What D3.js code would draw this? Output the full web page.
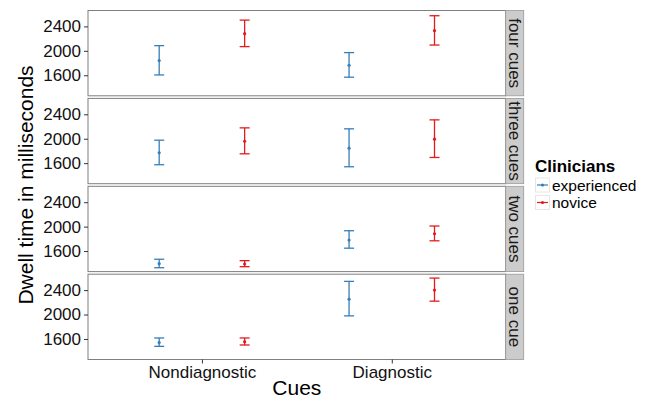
<!DOCTYPE html>
<html><head><meta charset="utf-8">
<script src="https://cdn.jsdelivr.net/npm/d3@7"></script>
<style>
html,body{margin:0;padding:0;background:#fff;}
svg{display:block;font-family:"Liberation Sans",Arial,Helvetica,sans-serif;}
</style></head>
<body><svg id="chart" width="659" height="401"></svg>
<script>
const facets = ["four cues", "three cues", "two cues", "one cue"];
const cues = ["Nondiagnostic", "Diagnostic"];
const clinicians = ["experienced", "novice"];
const yTicks = [1600, 2000, 2400];
// [facet][cue] values
const expMean  = [[1840, 1764], [1770, 1845], [1393, 1779], [1540, 2252]];
const expLower = [[1605, 1568], [1574, 1541], [1327, 1647], [1479, 1978]];
const expUpper = [[2085, 1971], [1976, 2162], [1466, 1933], [1616, 2543]];
const novMean  = [[2281, 2330], [1959, 1992], [1388, 1883], [1556, 2400]];
const novLower = [[2069, 2095], [1753, 1693], [1344, 1768], [1501, 2219]];
const novUpper = [[2503, 2575], [2178, 2309], [1443, 2010], [1616, 2597]];
const colors = ["#377EB8", "#E41A1C"];

const rows = [];
facets.forEach((f, fi) => cues.forEach((c, ci) => {
  rows.push({facet: f, cue: c, group: 0, mean: expMean[fi][ci], lo: expLower[fi][ci], hi: expUpper[fi][ci]});
  rows.push({facet: f, cue: c, group: 1, mean: novMean[fi][ci], lo: novLower[fi][ci], hi: novUpper[fi][ci]});
}));

const svg = d3.select("#chart");
const left = 88, right = 505.7, top0 = 10.5, pH = 85.3, gap = 2.6;
const stripW = 18;
const font = 17;

const x = d3.scalePoint().domain(cues).range([left, right]).padding(0.6);
const step = x.step();
const dodge = 0.225 * step;
const lo = d3.min(rows, d => d.lo), hi = d3.max(rows, d => d.hi);
const ex = (hi - lo) * 0.05;

facets.forEach((f, fi) => {
  const pt = top0 + fi * (pH + gap);
  const y = d3.scaleLinear().domain([lo - ex, hi + ex]).range([pt + pH, pt]);
  const g = svg.append("g");
  g.append("rect").attr("x", left).attr("y", pt).attr("width", right - left).attr("height", pH)
    .attr("fill", "#fff").attr("stroke", "#7f7f7f").attr("stroke-width", 1);
  // strip
  g.append("rect").attr("x", right).attr("y", pt).attr("width", stripW).attr("height", pH)
    .attr("fill", "#cccccc").attr("stroke", "#999").attr("stroke-width", 0.8);
  g.append("text").attr("transform", `translate(${right + stripW / 2},${pt + pH / 2}) rotate(90)`)
    .attr("text-anchor", "middle").attr("dominant-baseline", "central")
    .attr("font-size", font).attr("fill", "#1a1a1a").text(f);
  // y axis
  const ya = g.append("g").attr("transform", `translate(${left},0)`)
    .call(d3.axisLeft(y).tickValues(yTicks).tickFormat(d3.format("d")).tickSize(4).tickPadding(3));
  ya.select(".domain").remove();
  ya.selectAll(".tick line").attr("stroke", "#333");
  ya.selectAll(".tick text").attr("font-size", font).attr("fill", "#111");
  ya.attr("font-family", null);
  // error bars
  const d = rows.filter(r => r.facet === f);
  const cx = r => x(r.cue) + (r.group === 0 ? -dodge : dodge);
  const cap = 5;
  const eb = g.selectAll(".eb").data(d).enter().append("g")
    .attr("stroke", r => colors[r.group]).attr("stroke-width", 1.3);
  eb.append("line").attr("x1", cx).attr("x2", cx).attr("y1", r => y(r.lo)).attr("y2", r => y(r.hi));
  eb.append("line").attr("x1", r => cx(r) - cap).attr("x2", r => cx(r) + cap).attr("y1", r => y(r.hi)).attr("y2", r => y(r.hi));
  eb.append("line").attr("x1", r => cx(r) - cap).attr("x2", r => cx(r) + cap).attr("y1", r => y(r.lo)).attr("y2", r => y(r.lo));
  g.selectAll(".pt").data(d).enter().append("circle")
    .attr("cx", cx).attr("cy", r => y(r.mean)).attr("r", 1.6).attr("fill", r => colors[r.group]);
  if (fi === facets.length - 1) {
    const xa = svg.append("g").attr("transform", `translate(0,${pt + pH})`)
      .call(d3.axisBottom(x).tickSize(4).tickPadding(2));
    xa.select(".domain").remove();
    xa.selectAll(".tick line").attr("stroke", "#333");
    xa.selectAll(".tick text").attr("font-size", font).attr("fill", "#111");
    xa.attr("font-family", null);
  }
});

// axis titles
svg.append("text").attr("x", (left + right) / 2).attr("y", 395).attr("text-anchor", "middle")
  .attr("font-size", 21).attr("fill", "#000").text("Cues");
svg.append("text").attr("transform", `translate(33,${top0 + (4 * pH + 3 * gap) / 2}) rotate(-90)`)
  .attr("text-anchor", "middle").attr("font-size", 21).attr("fill", "#000").text("Dwell time in milliseconds");

// legend
const lg = svg.append("g");
lg.append("text").attr("x", 535).attr("y", 172).attr("font-size", font).attr("font-weight", "bold").text("Clinicians");
clinicians.forEach((c, i) => {
  const ky = 177 + i * 17.5;
  lg.append("rect").attr("x", 535.5).attr("y", ky + 1).attr("width", 14).attr("height", 14)
    .attr("fill", "#fff").attr("stroke", "#e6e6e6").attr("stroke-width", 1);
  lg.append("line").attr("x1", 537).attr("x2", 548).attr("y1", ky + 8).attr("y2", ky + 8)
    .attr("stroke", colors[i]).attr("stroke-width", 1.2);
  lg.append("circle").attr("cx", 542.5).attr("cy", ky + 8).attr("r", 1.6).attr("fill", colors[i]);
  lg.append("text").attr("x", 552).attr("y", ky + 13.5)
    .attr("font-size", 15.5).attr("fill", "#000").text(c);
});
</script></body></html>
